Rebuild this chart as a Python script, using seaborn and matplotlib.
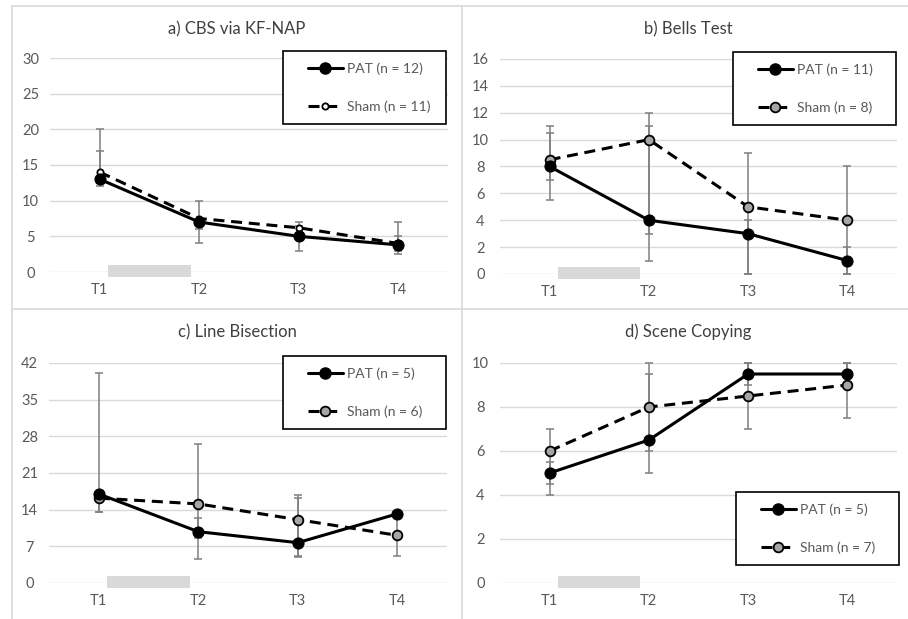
import numpy as np
import pandas as pd
import matplotlib.pyplot as plt
import seaborn as sns
from matplotlib import transforms
from matplotlib.patches import Rectangle
from matplotlib.lines import Line2D
from matplotlib.legend_handler import HandlerLine2D

times = ["T1", "T2", "T3", "T4"]

# a) CBS via KF-NAP
cbs_pat = [13, 7, 5, 3.8]
cbs_pat_lo = [12, 4, 3, 2.5]
cbs_pat_hi = [17, 7.5, 6.5, 5]
cbs_sham = [14, 7.5, 6.2, 4]
cbs_sham_lo = [12.5, 6, 5.5, 3]
cbs_sham_hi = [20, 10, 7, 7]

# b) Bells Test
bells_pat = [8, 4, 3, 1]
bells_pat_lo = [5.5, 1, 0, 0]
bells_pat_hi = [10.5, 11, 4, 2]
bells_sham = [8.5, 10, 5, 4]
bells_sham_lo = [7, 3, 0, 0]
bells_sham_hi = [11, 12, 9, 8]

# c) Line Bisection
line_pat = [17, 9.8, 7.7, 13.2]
line_pat_lo = [13.6, 4.5, 5.0, 12.5]
line_pat_hi = [40, 12.5, 16.2, 13.2]
line_sham = [16.2, 15.1, 12.1, 9.1]
line_sham_lo = [13.6, 8.5, 5.2, 5.2]
line_sham_hi = [17, 26.5, 16.8, 13]

# d) Scene Copying
scene_pat = [5, 6.5, 9.5, 9.5]
scene_pat_lo = [4, 5, 9, 9.5]
scene_pat_hi = [5.5, 9.5, 10, 10]
scene_sham = [6, 8, 8.5, 9]
scene_sham_lo = [4.5, 6, 7, 7.5]
scene_sham_hi = [7, 10, 10, 10]

W, H = 908, 619
GREY_TXT = "#595959"
GRID = "#d9d9d9"

sns.set_style("white")
plt.rcParams["font.family"] = ["Lato", "DejaVu Sans"]

fig = plt.figure(figsize=(W / 100, H / 100), dpi=100)


def frac(x0, y0, x1, y1):
    return [x0 / W, 1 - y1 / H, (x1 - x0) / W, (y1 - y0) / H]


panels = [
    dict(title="a) CBS via KF-NAP", rect=(50, 58, 448, 272), tpos=(237, 29),
         ymax=30, step=5,
         pat=(cbs_pat, cbs_pat_lo, cbs_pat_hi), sham=(cbs_sham, cbs_sham_lo, cbs_sham_hi),
         npat=12, nsham=11, sham_face="white", sham_ms=4.5,
         leg=(283, 51, 446, 124)),
    dict(title="b) Bells Test", rect=(500, 59, 897, 274), tpos=(688, 29),
         ymax=16, step=2,
         pat=(bells_pat, bells_pat_lo, bells_pat_hi), sham=(bells_sham, bells_sham_lo, bells_sham_hi),
         npat=11, nsham=8, sham_face="#a6a6a6", sham_ms=7,
         leg=(733, 52, 896, 125)),
    dict(title="c) Line Bisection", rect=(49, 363, 447, 583), tpos=(237, 332),
         ymax=42, step=7,
         pat=(line_pat, line_pat_lo, line_pat_hi), sham=(line_sham, line_sham_lo, line_sham_hi),
         npat=5, nsham=6, sham_face="#a6a6a6", sham_ms=7,
         leg=(283, 356, 446, 430)),
    dict(title="d) Scene Copying", rect=(500, 363, 897, 583), tpos=(688, 332),
         ymax=10, step=2,
         pat=(scene_pat, scene_pat_lo, scene_pat_hi), sham=(scene_sham, scene_sham_lo, scene_sham_hi),
         npat=5, nsham=7, sham_face="#a6a6a6", sham_ms=7,
         leg=(736, 492, 899, 566)),
]

pos = np.arange(len(times))
dash = (0, (3.6, 2.2))
handler = HandlerLine2D(xpad=1.0)

for p in panels:
    x0, y0, x1, y1 = p["rect"]
    ax = fig.add_axes(frac(x0, y0, x1, y1))
    pat_m, pat_lo, pat_hi = p["pat"]
    sham_m, sham_lo, sham_hi = p["sham"]
    df = pd.DataFrame({
        "pos": np.concatenate([pos, pos]),
        "value": pat_m + sham_m,
        "group": ["PAT"] * 4 + ["Sham"] * 4,
    })

    # error bars behind the lines
    for m, lo, hi in [(pat_m, pat_lo, pat_hi), (sham_m, sham_lo, sham_hi)]:
        m = np.array(m)
        ax.errorbar(pos, m, yerr=[m - np.array(lo), np.array(hi) - m], fmt="none",
                    ecolor="#7f7f7f", elinewidth=1.1, capsize=3, capthick=1.1,
                    zorder=2, clip_on=False)

    sns.lineplot(data=df[df.group == "Sham"], x="pos", y="value", ax=ax, color="black",
                 lw=2.2, linestyle=dash, marker="o", markersize=p["sham_ms"],
                 markerfacecolor=p["sham_face"], markeredgecolor="black", markeredgewidth=1.3,
                 zorder=3, clip_on=False, legend=False)
    sns.lineplot(data=df[df.group == "PAT"], x="pos", y="value", ax=ax, color="black",
                 lw=2.2, marker="o", markersize=8, markerfacecolor="black",
                 markeredgecolor="black", zorder=4, clip_on=False, legend=False)

    ax.set_xlim(-0.5, 3.5)
    ax.set_ylim(0, p["ymax"])
    ax.set_yticks(np.arange(0, p["ymax"] + 0.1, p["step"]))
    ax.set_xticks(pos)
    ax.set_xticklabels(times)
    ax.set_xlabel("")
    ax.set_ylabel("")
    ax.grid(axis="y", color=GRID, lw=1)
    ax.set_axisbelow(True)
    for s in ax.spines.values():
        s.set_visible(False)
    ax.tick_params(length=0, labelsize=10.5, labelcolor=GREY_TXT)
    ax.tick_params(axis="y", pad=14)
    ax.tick_params(axis="x", pad=8)
    for lab in ax.get_yticklabels():
        lab.set_horizontalalignment("center")

    # grey stimulation period bar between T1 and T2
    hpx = y1 - y0
    trans = transforms.blended_transform_factory(ax.transData, ax.transAxes)
    ax.add_patch(Rectangle((0.087, -5 / hpx), 0.826, 12 / hpx, transform=trans,
                           facecolor="#d9d9d9", edgecolor="none", clip_on=False, zorder=1))

    fig.text(p["tpos"][0] / W, 1 - p["tpos"][1] / H, p["title"], ha="center", va="center",
             fontsize=12, color="#404040")

    handles = [
        Line2D([], [], color="black", lw=2.2, marker="o", markersize=8, markerfacecolor="black"),
        Line2D([], [], color="black", lw=2.2, linestyle=dash, marker="o", markersize=p["sham_ms"],
               markerfacecolor=p["sham_face"], markeredgecolor="black", markeredgewidth=1.3),
    ]
    lx0, ly0, lx1, ly1 = p["leg"]
    leg = ax.legend(handles, [f"PAT (n = {p['npat']})", f"Sham (n = {p['nsham']})"],
                    loc="upper left", bbox_to_anchor=frac(lx0, ly0, lx1, ly1),
                    bbox_transform=fig.transFigure, mode="expand", borderaxespad=0,
                    frameon=True, fancybox=False, framealpha=1, edgecolor="black",
                    fontsize=10, labelcolor=GREY_TXT, handlelength=3.5, handletextpad=0.3,
                    labelspacing=1.85, borderpad=0.8,
                    handler_map={Line2D: handler})
    leg.get_frame().set_linewidth(1.2)

# panel borders
for (xa, ya, xb, yb) in [(12, 6, 908, 6), (12, 6, 12, 619), (462, 6, 462, 619), (12, 309, 908, 309)]:
    fig.add_artist(Line2D([xa / W, xb / W], [1 - ya / H, 1 - yb / H], color="#d9d9d9", lw=1.2))

fig.savefig("out.png", dpi=100, facecolor="white")
